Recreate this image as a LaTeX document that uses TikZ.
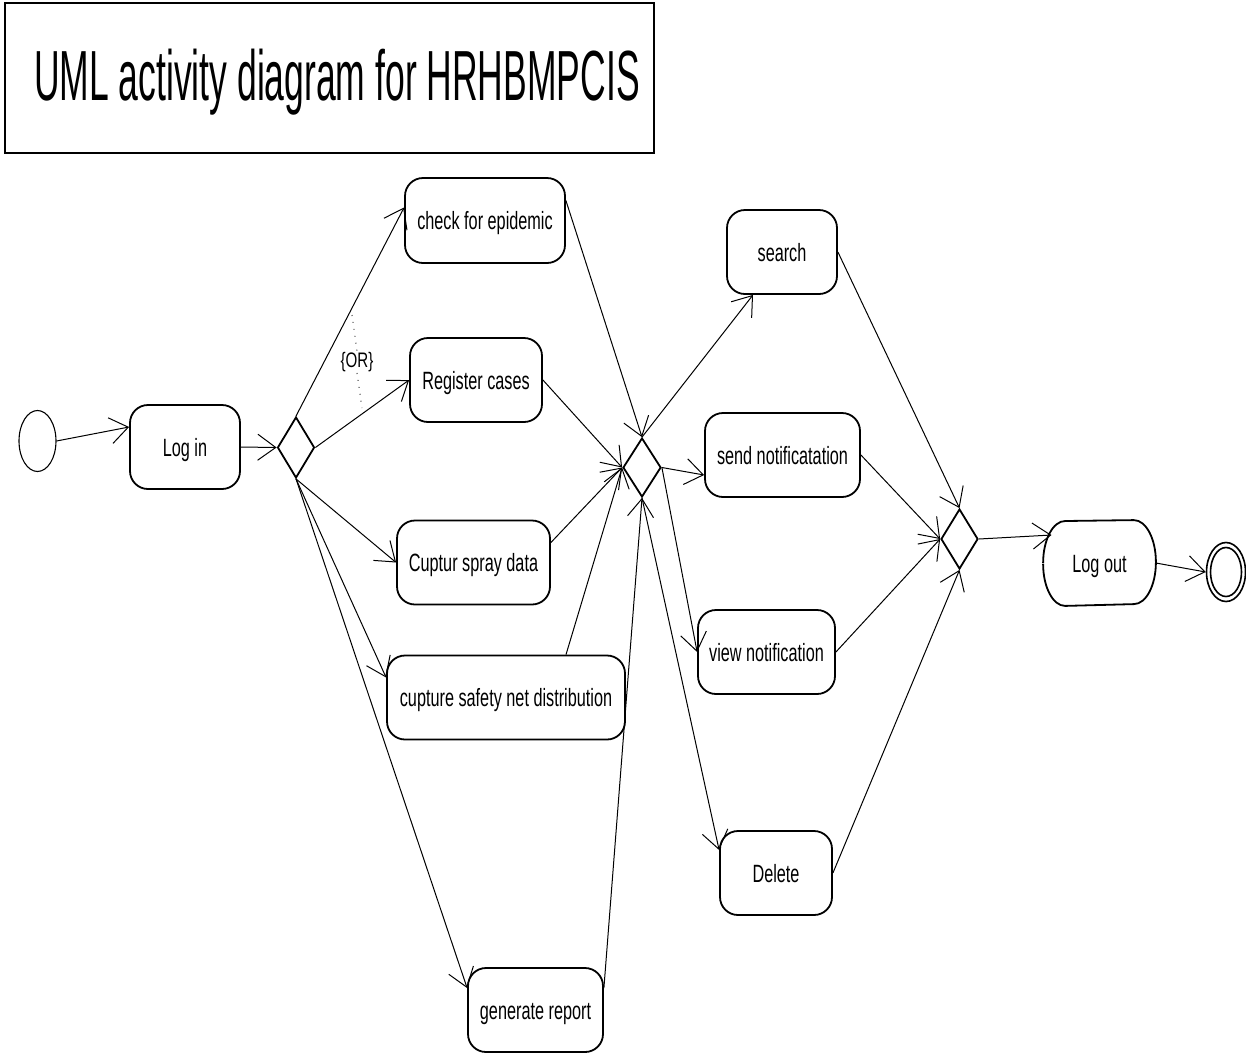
\documentclass[tikz,border=0pt]{standalone}
\usepackage{fontspec}
\usetikzlibrary{shapes.geometric,arrows.meta,calc}
\newfontfamily\nodefont[FakeStretch=0.65]{Liberation Sans}
\newfontfamily\orfont[FakeStretch=0.72]{Liberation Sans}
\newfontfamily\titlefont[FakeStretch=0.5]{Liberation Sans}
\begin{document}
\begin{tikzpicture}[x=1pt,y=-1pt,
  act/.style={draw, line width=1.8pt, rounded corners=18pt, minimum height=84pt,
    inner sep=0pt, font=\nodefont\fontsize{25}{30}\selectfont,
    text height=18pt, text depth=0pt},
  branch/.style={draw, diamond, line width=1.8pt, inner sep=0pt},
  flow/.style={line width=1pt, -{Straight Barb[length=18pt,width=26pt]}},
]
\useasboundingbox (0,0) rectangle (1246,1053);

% title frame
\node[draw, line width=1.6pt, minimum width=649pt, minimum height=150pt, inner sep=0pt]
  (titlebox) at (329.5,78) {};
\node[anchor=base, inner sep=0pt, font=\titlefont\fontsize{71}{80}\selectfont]
  (title) at (337,100) {UML activity diagram for HRHBMPCIS};

% initial and final states
\node[draw, ellipse, line width=1.1pt, minimum width=37pt, minimum height=61pt, inner sep=0pt]
  (start) at (37.5,441) {};
\node[draw, ellipse, line width=1.6pt, minimum width=39pt, minimum height=59pt, inner sep=0pt]
  (fin) at (1226,572) {};
\draw[line width=1.6pt] (fin.center) ellipse[x radius=15.5pt, y radius=24.5pt];

% activities
\node[act, minimum width=110pt] (login) at (185,447) {Log in};
\node[act, minimum width=160pt, minimum height=85pt] (check) at (485,220.5) {check for epidemic};
\node[act, minimum width=132pt] (register) at (476,380) {Register cases};
\node[act, minimum width=153pt] (spray) at (473.5,562.5) {Cuptur spray data};
\node[act, minimum width=238pt] (safety) at (506,697.5) {cupture safety net distribution};
\node[act, minimum width=135pt] (generate) at (535.5,1010) {generate report};
\node[act, minimum width=110pt] (search) at (782,252) {search};
\node[act, minimum width=155pt] (send) at (782.5,455) {send notificatation};
\node[act, minimum width=137pt] (view) at (766.5,652) {view notification};
\node[act, minimum width=112pt] (delete) at (776,873) {Delete};
\node[act, draw=none, minimum width=111pt] (logout) at (1099.5,563) {Log out};
% Log out has elliptic ends
\draw[line width=1.8pt, line join=round]
  (logout.west)
  arc[start angle=180, end angle=90, x radius=22pt, y radius=42pt]
  -- ($(logout.north east)+(-22,0)$)
  arc[start angle=90, end angle=-90, x radius=22pt, y radius=42pt]
  -- ($(logout.south west)+(22,0)$)
  arc[start angle=270, end angle=180, x radius=22pt, y radius=42pt];

% decision / merge points
\node[branch, minimum width=37pt, minimum height=61pt] (d1) at (296,447.5) {};
\node[branch, minimum width=38pt, minimum height=59pt] (d2) at (642,467.5) {};
\node[branch, minimum width=37pt, minimum height=60pt] (d3) at (959.5,539) {};

% {OR} constraint
\node[inner sep=1pt, font=\orfont\fontsize{21}{24}\selectfont] (orlabel) at (357,362) {\{OR\}};
\coordinate (ortop) at (352,315);
\coordinate (orbot) at (362,408);
\draw[line width=0.8pt, dash pattern=on 1pt off 6pt] (ortop) -- (orlabel.north);
\draw[line width=0.8pt, dash pattern=on 1pt off 6pt] (orlabel.south) -- (orbot);

% transitions
\draw[flow] (start.east) -- ($(login.west)+(0,-20)$);
\draw[flow] (login.east) -- (d1.west);
\draw[flow] (d1.north) -- ($(check.west)+(0,-13)$);
\draw[flow] (d1.east) -- (register.west);
\draw[flow] (d1.south) -- (spray.west);
\draw[flow] (d1.south) -- ($(safety.west)+(0,-20)$);
\draw[flow] (d1.south) -- ($(generate.west)+(0,-22)$);

\draw[flow] ($(check.east)+(0,-20)$) -- (d2.north);
\draw[flow] (register.east) -- (d2.west);
\draw[flow] ($(spray.east)+(0,-20)$) -- (d2.west);
\draw[flow] ($(safety.north)+(60,0)$) -- (d2.west);
\draw[flow] ($(generate.east)+(0,-22)$) -- (d2.south);

\draw[flow] (d2.north) -- ($(search.south)+(-29,0)$);
\draw[flow] (d2.east) -- ($(send.west)+(0,20)$);
\draw[flow] (d2.east) -- (view.west);
\draw[flow] (d2.south) -- ($(delete.west)+(0,-23)$);

\draw[flow] (search.east) -- (d3.north);
\draw[flow] (send.east) -- (d3.west);
\draw[flow] (view.east) -- (d3.west);
\draw[flow] (delete.east) -- (d3.south);

\draw[flow] (d3.east) -- ($(logout.center)+(-48,-28)$);
\draw[flow] (logout.east) -- (fin.west);
\end{tikzpicture}
\end{document}
